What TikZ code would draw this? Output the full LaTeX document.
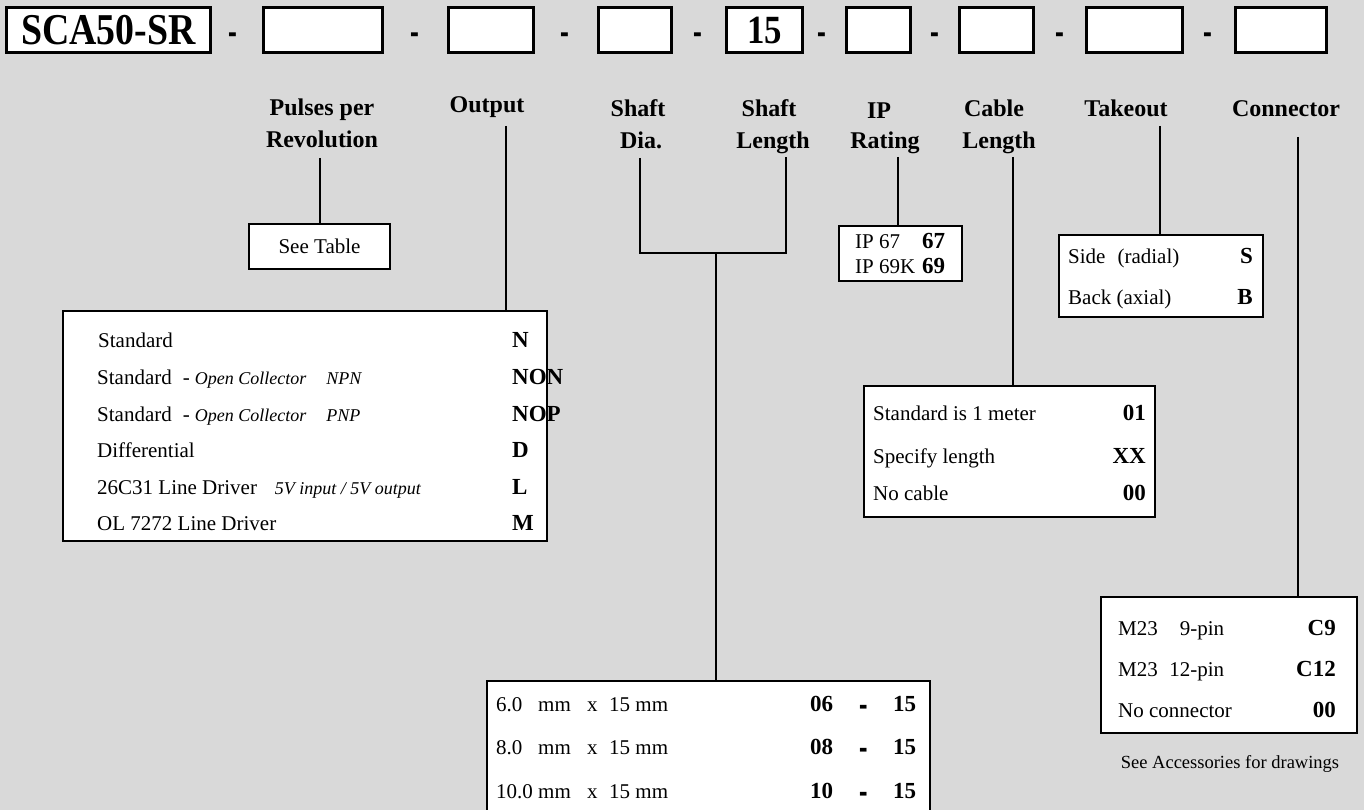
\documentclass[tikz,border=0pt]{standalone}
\usepackage{fontspec}
\setmainfont{Liberation Serif}
\newcommand\myfs[1]{\fontsize{#1}{#1}\selectfont}
\newcommand\fatdash{\raisebox{-6pt}[6pt][0pt]{\scalebox{1.1}[1.9]{-}}}
\definecolor{bggray}{RGB}{217,217,217}
\tikzset{
  topbox/.style={draw, line width=3pt, fill=white, inner sep=0pt, minimum height=45pt},
  optbox/.style={draw, line width=1.6pt, fill=white, inner sep=0pt},
  conn/.style={line width=1.4pt},
  hdr/.style={font=\myfs{24}\bfseries, inner sep=0pt, anchor=base},
  body/.style={font=\myfs{21}, inner sep=0pt, anchor=base west},
  note/.style={font=\myfs{18.5}, inner sep=0pt, anchor=base},
  codel/.style={font=\myfs{23}\bfseries, inner sep=0pt, anchor=base west},
  coder/.style={font=\myfs{23}\bfseries, inner sep=0pt, anchor=base east},
  codec/.style={font=\myfs{23}\bfseries, inner sep=0pt, anchor=base},
  sepdash/.style={font=\myfs{24}\bfseries, inner sep=0pt, anchor=base},
}
\begin{document}
\begin{tikzpicture}[x=1pt,y=-1pt]
\clip (0,0) rectangle (1364,810);
\fill[bggray] (0,0) rectangle (1364,810);

% ---- top code row
\node[topbox, minimum width=204pt] (b1) at (108.5,30) {\scalebox{0.86}[1]{\myfs{44}\bfseries SCA50-SR}};
\node[topbox, minimum width=119pt] (b2) at (323,30) {};
\node[topbox, minimum width=85pt] (b3) at (491,30) {};
\node[topbox, minimum width=73pt] (b4) at (635,30) {};
\node[topbox, minimum width=76pt] (b5) at (764.5,30) {\scalebox{0.87}[1]{\myfs{40}\bfseries 15}};
\node[topbox, minimum width=64pt] (b6) at (878.5,30) {};
\node[topbox, minimum width=74pt] (b7) at (996.5,30) {};
\node[topbox, minimum width=96pt] (b8) at (1134.5,30) {};
\node[topbox, minimum width=91pt] (b9) at (1281,30) {};
\node[sepdash] (d1) at (233,40) {\fatdash};
\node[sepdash] (d2) at (415,40) {\fatdash};
\node[sepdash] (d3) at (565,40) {\fatdash};
\node[sepdash] (d4) at (698,40) {\fatdash};
\node[sepdash] (d5) at (822,40) {\fatdash};
\node[sepdash] (d6) at (935,40) {\fatdash};
\node[sepdash] (d7) at (1060,40) {\fatdash};
\node[sepdash] (d8) at (1208,40) {\fatdash};

% ---- headers
\node[hdr] (h1a) at (322,116) {Pulses per};
\node[hdr] (h1b) at (322,148) {Revolution};
\node[hdr] (h2) at (487,113) {Output};
\node[hdr] (h3a) at (638,117) {Shaft};
\node[hdr] (h3b) at (641,149) {Dia.};
\node[hdr] (h4a) at (769,117) {Shaft};
\node[hdr] (h4b) at (773,149) {Length};
\node[hdr] (h5a) at (879,119) {IP};
\node[hdr] (h5b) at (885,149) {Rating};
\node[hdr] (h6a) at (994,117) {Cable};
\node[hdr] (h6b) at (999,149) {Length};
\node[hdr] (h7) at (1126,117) {Takeout};
\node[hdr] (h8) at (1286,117) {Connector};

% ---- option boxes
\node[optbox, minimum width=141pt, minimum height=45pt, font=\myfs{21}] (seetab) at (319.5,246.5) {See Table};
\node[optbox, minimum width=484pt, minimum height=230pt] (outbox) at (305,426) {};
\node[optbox, minimum width=123pt, minimum height=55pt] (ipbox) at (900.5,253.5) {};
\node[optbox, minimum width=204pt, minimum height=82pt] (takebox) at (1161,276) {};
\node[optbox, minimum width=291pt, minimum height=131pt] (cabbox) at (1009.5,451.5) {};
\node[optbox, minimum width=256pt, minimum height=136pt] (conbox) at (1229,665) {};
\node[optbox, minimum width=443pt, minimum height=160pt] (shaftbox) at (708.5,761) {};

% ---- connectors
\coordinate (ppTop) at (320,158);
\coordinate (outTop) at (506,126);
\coordinate (diaTop) at (640,158);
\coordinate (lenTop) at (786,157);
\coordinate (shj) at (716,253);
\coordinate (ipTop) at (898,157);
\coordinate (cabTop) at (1013,157);
\coordinate (takeTop) at (1160,126);
\coordinate (conTop) at (1298,137);
\draw[conn] (ppTop) -- (ppTop |- seetab.north);
\draw[conn] (outTop) -- (outTop |- outbox.north);
\draw[conn] (diaTop) |- (shj) -| (lenTop);
\draw[conn] (shj) -- (shj |- shaftbox.north);
\draw[conn] (ipTop) -- (ipTop |- ipbox.north);
\draw[conn] (cabTop) -- (cabTop |- cabbox.north);
\draw[conn] (takeTop) -- (takeTop |- takebox.north);
\draw[conn] (conTop) -- (conTop |- conbox.north);

% ---- output box contents
\node[body] (o1) at (98,347) {Standard};
\node[body] (o2) at (97,384) {Standard\hspace{11pt}-\hspace{5pt}{\myfs{18}\itshape Open Collector\hspace{20pt}NPN}};
\node[body] (o3) at (97,421) {Standard\hspace{11pt}-\hspace{5pt}{\myfs{18}\itshape Open Collector\hspace{20pt}PNP}};
\node[body] (o4) at (97,457) {Differential};
\node[body] (o5) at (97,494) {26C31 Line Driver\hspace{18pt}{\myfs{18}\itshape 5V input / 5V output}};
\node[body] (o6) at (97,530) {OL 7272 Line Driver};
\node[codel] (oc1) at (512,347) {N};
\node[codel] (oc2) at (512,384) {NON};
\node[codel] (oc3) at (512,421) {NOP};
\node[codel] (oc4) at (512,457) {D};
\node[codel] (oc5) at (512,494) {L};
\node[codel] (oc6) at (512,530) {M};

% ---- IP box contents
\node[body] (i1) at (855,248) {IP 67};
\node[body] (i2) at (855,273) {IP 69K};
\node[codel] (ic1) at (922,248) {67};
\node[codel] (ic2) at (922,273) {69};

% ---- takeout box contents
\node[body] (t1) at (1068,263) {Side\hspace{12pt}(radial)};
\node[body] (t2) at (1068,304) {Back (axial)};
\node[coder] (tc1) at (1253,263) {S};
\node[coder] (tc2) at (1253,304) {B};

% ---- cable box contents
\node[body] (c1) at (873,420) {Standard is 1 meter};
\node[body] (c2) at (873,463) {Specify length};
\node[body] (c3) at (873,500) {No cable};
\node[coder] (cc1) at (1146,420) {01};
\node[coder] (cc2) at (1146,463) {XX};
\node[coder] (cc3) at (1146,500) {00};

% ---- connector box contents
\node[body] (k1) at (1118,635) {\makebox[106pt][l]{M23\hfill 9-pin}};
\node[body] (k2) at (1118,676) {\makebox[106pt][l]{M23\hfill 12-pin}};
\node[body] (k3) at (1118,717) {No connector};
\node[coder] (kc1) at (1336,635) {C9};
\node[coder] (kc2) at (1336,676) {C12};
\node[coder] (kc3) at (1336,717) {00};
\node[note] (acc) at (1230,768) {See Accessories for drawings};

% ---- shaft box contents
\node[body] (s1) at (496,711) {\makebox[42pt][l]{6.0}\makebox[49pt][l]{mm}\makebox[22pt][l]{x}15 mm};
\node[body] (s2) at (496,754) {\makebox[42pt][l]{8.0}\makebox[49pt][l]{mm}\makebox[22pt][l]{x}15 mm};
\node[body] (s3) at (496,798) {\makebox[42pt][l]{10.0}\makebox[49pt][l]{mm}\makebox[22pt][l]{x}15 mm};
\node[codel] (sa1) at (810,711) {06};
\node[codel] (sa2) at (810,754) {08};
\node[codel] (sa3) at (810,798) {10};
\node[codec] (sd1) at (864,711) {\fatdash};
\node[codec] (sd2) at (864,754) {\fatdash};
\node[codec] (sd3) at (864,798) {\fatdash};
\node[codel] (sb1) at (893,711) {15};
\node[codel] (sb2) at (893,754) {15};
\node[codel] (sb3) at (893,798) {15};
\end{tikzpicture}
\end{document}
